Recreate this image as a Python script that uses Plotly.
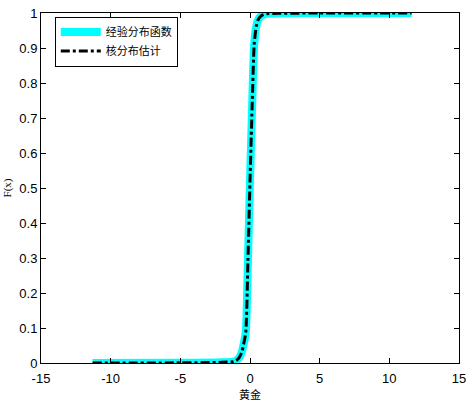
import plotly.graph_objects as go

x_vals = [-11.3, -5, -2, -1.2, -1.0, -0.8, -0.6, -0.45, -0.3, -0.15, 0, 0.15, 0.3, 0.45, 0.6, 0.8, 1.0, 1.2, 2, 5, 11.6]
f_emp = [0, 0.0005, 0.002, 0.004, 0.007, 0.014, 0.03, 0.055, 0.09, 0.29, 0.52, 0.73, 0.91, 0.962, 0.982, 0.992, 0.996, 0.998, 0.999, 1, 1]
f_ks = [0, 0.0005, 0.002, 0.004, 0.007, 0.014, 0.03, 0.055, 0.09, 0.29, 0.52, 0.73, 0.91, 0.962, 0.982, 0.992, 0.996, 0.998, 0.999, 1, 1]

x_ticks = [-15, -10, -5, 0, 5, 10, 15]
y_ticks = [0, 0.1, 0.2, 0.3, 0.4, 0.5, 0.6, 0.7, 0.8, 0.9, 1]

fig = go.Figure()
fig.add_trace(go.Scatter(x=x_vals, y=f_emp, mode="lines", name="经验分布函数",
                         line=dict(color="#00FFFF", width=8, shape="spline", smoothing=0.6)))
fig.add_trace(go.Scatter(x=x_vals, y=f_ks, mode="lines", name="核分布估计",
                         line=dict(color="black", width=3, dash="dashdot", shape="spline", smoothing=0.6)))

axis_style = dict(showline=True, linecolor="black", linewidth=1, mirror="ticks",
                  ticks="inside", ticklen=5, tickcolor="black", showgrid=False, zeroline=False,
                  ticklabeloverflow="allow",
                  tickfont=dict(family="Liberation Sans, Arial", size=13, color="black"))

fig.update_layout(
    width=472, height=403,
    margin=dict(l=41, r=10, t=6, b=36),
    paper_bgcolor="white", plot_bgcolor="white",
    font=dict(family="Liberation Sans, Noto Sans CJK SC", color="black"),
    xaxis=dict(range=[-15, 15], tickvals=x_ticks, ticktext=[str(v) for v in x_ticks],
               ticklabelstandoff=3,
               title=dict(text="黄金", standoff=4,
                          font=dict(family="Noto Sans CJK SC", size=11)),
               **axis_style),
    yaxis=dict(range=[0, 1], tickvals=y_ticks, ticktext=[f"{v:g}" for v in y_ticks],
               title=dict(text="F(x)", standoff=5,
                          font=dict(family="Liberation Serif", size=11)),
               **axis_style),
    legend=dict(x=0.033, y=0.99, xanchor="left", yanchor="top",
                bordercolor="black", borderwidth=1, bgcolor="white",
                font=dict(family="Noto Sans CJK SC", size=11),
                itemwidth=40, tracegroupgap=0),
    showlegend=True,
)

# drop the default page margin so the figure sits at the window corner
fig.write_html("out.html", config={"displayModeBar": False},
               post_script="document.body.style.margin='0';document.body.style.overflow='hidden';")
